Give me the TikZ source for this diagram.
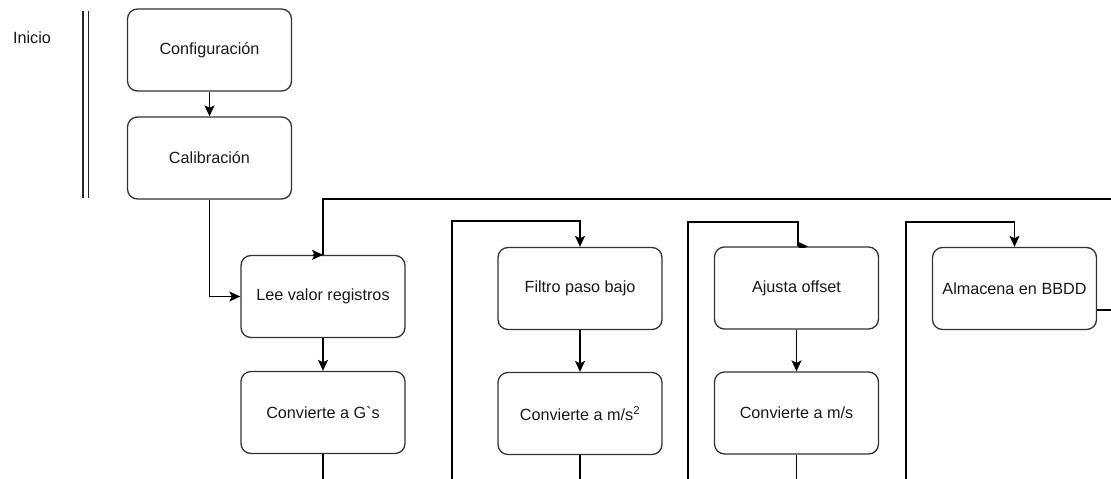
\documentclass[tikz,border=0pt]{standalone}
\usepackage{fontspec}
\setmainfont{Liberation Sans}
\usetikzlibrary{arrows.meta,calc}
\begin{document}
\begin{tikzpicture}[x=1pt,y=-1pt,
  box/.style={draw=black!80, fill=white, rounded corners=10pt, line width=1.3pt,
    minimum width=164pt, minimum height=82pt, inner sep=0pt,
    font=\fontsize{16.2}{19}\selectfont, text=black!90},
  conn/.style={draw=black, line width=1.3pt},
  arr/.style={conn, -{Stealth[length=11pt,width=10pt,inset=2.5pt]}},
  lane/.style={draw=black!85, line width=1.2pt},
]
\useasboundingbox[fill=white] (0,0) rectangle (1111,479);
\coordinate (bot) at (0,479);

% label and lane separator
\node[font=\fontsize{16.2}{19}\selectfont, text=black!90] (ini) at (32,38) {Inicio};
\draw[lane] (83,11) -- (83,198);
\draw[lane] (88.5,11) -- (88.5,198);

% boxes
\node[box] (conf) at (209.5,50) {Configuración};
\node[box] (cal)  at (209.5,158) {Calibración};
\node[box] (lee)  at (323,296.5) {Lee valor registros};
\node[box] (cg)   at (323,412.5) {Convierte a G\textasciigrave s};
\node[box] (fil)  at (580,288.5) {Filtro paso bajo};
\node[box] (cms2) at (580,413.5) {Convierte a m/s\textsuperscript{2}};
\node[box] (aju)  at (796.5,288) {Ajusta offset};
\node[box] (cms)  at (796.5,413) {Convierte a m/s};
\node[box] (alm)  at (1014.5,288.5) {Almacena en BBDD};

% coordinates for free ends
\coordinate (topR) at (1111,199);
\coordinate (almR) at (1111,310);
\coordinate (fb) at (452,479);
\coordinate (ft) at (452,221);
\coordinate (ab) at (688,479);
\coordinate (at2) at (688,222);
\coordinate (sb) at (906,479);
\coordinate (st) at (906,222);

% connectors
\draw[arr] (conf.south) -- (cal.north);
\draw[arr] (cal.south) |- (lee.west);
\draw[conn] (topR) -| (lee.north);
\draw[arr] ($(lee.north)+(-10,0)$) -- (lee.north);
\draw[arr] (lee.south) -- (cg.north);
\draw[conn] (cg.south) -- (cg.south |- bot);

\draw[arr] (fb) -- (ft) -| (fil.north);
\draw[arr] (fil.south) -- (cms2.north);
\draw[conn] (cms2.south) -- (cms2.south |- bot);

\draw[conn] (ab) -- (at2) -| ($(aju.north)+(1.5,0)$);
\begin{scope}
  \clip (780,230) rectangle (830,247.3);
  \draw[arr] ($(aju.north)+(1.5,0)$) -- ($(aju.north)+(11.5,0)$);
\end{scope}
\draw[arr] (aju.south) -- (cms.north);
\draw[conn] (cms.south) -- (cms.south |- bot);

\draw[arr] (sb) -- (st) -| (alm.north);
\draw[conn] ($(alm.east)+(0,21.5)$) -- (almR);
\end{tikzpicture}
\end{document}
